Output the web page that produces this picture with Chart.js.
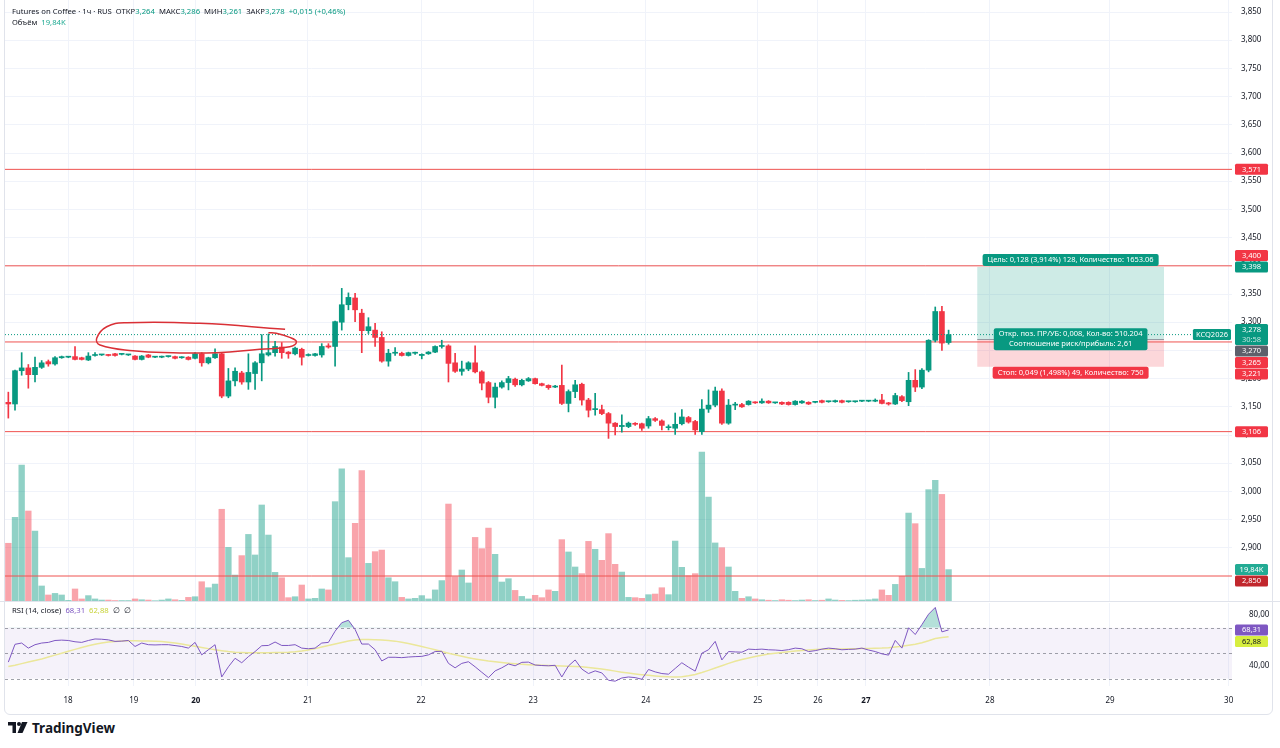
<!DOCTYPE html>
<html>
<head>
<meta charset="utf-8">
<script src="https://cdn.jsdelivr.net/npm/chart.js@4.4.1/dist/chart.umd.min.js"></script>
<style>
  html, body { margin: 0; padding: 0; background: #fff; }
  body { width: 1280px; height: 748px; position: relative; overflow: hidden; font-family: 'Noto Sans', sans-serif; }
  canvas { position: absolute; left: 0; }
  #main { top: 0; }
  #rsi { top: 600px; }
  #frame { position: absolute; left: 4px; top: -10px; width: 1267px; height: 723px; border: 1px solid #e0e3eb; border-radius: 6px; }
  .txt { position: absolute; font-size: 7.7px; color: #131722; white-space: nowrap; line-height: 11px; }
  .g { color: #089981; }
  .t { color: #22ab94; }
  .p { color: #7e57c2; }
  .yl { color: #c8d33a; }
  #logo { position: absolute; left: 8px; top: 719px; height: 18px; display: flex; align-items: center; gap: 4px; font-size: 13.5px; font-weight: 700; color: #131722; }
</style>
</head>
<body>
<div id="frame"></div>
<canvas id="main" width="1280" height="602"></canvas>
<canvas id="rsi" width="1280" height="116"></canvas>

<div class="txt" style="left:12px;top:6px">Futures on Coffee · 1ч · RUS&nbsp; ОТКР<span class="g">3,264</span>&nbsp; МАКС<span class="g">3,286</span>&nbsp; МИН<span class="g">3,261</span>&nbsp; ЗАКР<span class="g">3,278</span>&nbsp; <span class="g">+0,015 (+0,46%)</span></div>
<div class="txt" style="left:12px;top:17px">Объём&nbsp; <span class="t">19,84K</span></div>
<div class="txt" style="left:12px;top:605px">RSI (14, close)&nbsp; <span class="p">68,31</span>&nbsp; <span class="yl">62,88</span>&nbsp; ∅&nbsp; ∅</div>
<div id="logo">
  <svg width="20" height="12" viewBox="0 0 20 12"><path d="M0 0H8V11H4.5V3.4H0Z" fill="#131722"/><circle cx="11" cy="2" r="2" fill="#131722"/><path d="M14 0H19.5L14.5 11H9.5Z" fill="#131722"/></svg>
  <span>TradingView</span>
</div>

<script>
// ---- data ----
const dayLabels = ['18', '19', '20', '21', '22', '23', '24', '25', '26', '27', '28', '29', '30'];
const dayStarts = [8.95, 18.8, 28.1, 44.9, 61.9, 78.7, 95.6, 112.4, 121.4, 128.6, 147.2, 165.2, 183.0];
const weekStarts = ['20', '27'];

const opens = [
  3.158, 3.155, 3.214, 3.219, 3.207, 3.220, 3.230, 3.226, 3.237, 3.238,
  3.239, 3.237, 3.233, 3.241, 3.242, 3.242, 3.244, 3.243, 3.242, 3.240,
  3.234, 3.242, 3.238, 3.238, 3.239, 3.239, 3.237, 3.238, 3.236, 3.244,
  3.228, 3.237, 3.244, 3.169, 3.196, 3.210, 3.194, 3.209, 3.228, 3.242,
  3.246, 3.256, 3.247, 3.244, 3.252, 3.241, 3.241, 3.242, 3.258, 3.257,
  3.300, 3.331, 3.343, 3.316, 3.285, 3.286, 3.273, 3.231, 3.245, 3.245,
  3.241, 3.245, 3.241, 3.244, 3.247, 3.257, 3.258, 3.228, 3.213, 3.217,
  3.228, 3.212, 3.193, 3.167, 3.185, 3.193, 3.199, 3.189, 3.196, 3.200,
  3.191, 3.188, 3.185, 3.188, 3.156, 3.177, 3.190, 3.162, 3.145, 3.145,
  3.138, 3.121, 3.115, 3.115, 3.120, 3.120, 3.116, 3.129, 3.125, 3.113,
  3.112, 3.120, 3.131, 3.124, 3.106, 3.146, 3.153, 3.178, 3.121, 3.153,
  3.154, 3.154, 3.158, 3.157, 3.160, 3.157, 3.158, 3.158, 3.154, 3.157,
  3.158, 3.158, 3.161, 3.159, 3.159, 3.161, 3.159, 3.159, 3.160, 3.160,
  3.160, 3.162, 3.157, 3.155, 3.168, 3.159, 3.197, 3.185, 3.215, 3.268,
  3.319, 3.264
];
const highs = [
  3.176, 3.215, 3.246, 3.225, 3.238, 3.232, 3.233, 3.239, 3.240, 3.239,
  3.257, 3.238, 3.246, 3.246, 3.243, 3.243, 3.245, 3.244, 3.243, 3.241,
  3.241, 3.243, 3.239, 3.240, 3.240, 3.240, 3.239, 3.239, 3.246, 3.246,
  3.238, 3.253, 3.245, 3.218, 3.219, 3.213, 3.244, 3.230, 3.278, 3.279,
  3.266, 3.264, 3.248, 3.256, 3.254, 3.244, 3.245, 3.262, 3.262, 3.302,
  3.360, 3.352, 3.351, 3.323, 3.308, 3.298, 3.283, 3.252, 3.255, 3.247,
  3.247, 3.247, 3.244, 3.248, 3.258, 3.268, 3.260, 3.245, 3.231, 3.230,
  3.258, 3.214, 3.195, 3.192, 3.196, 3.204, 3.201, 3.199, 3.202, 3.201,
  3.192, 3.189, 3.188, 3.224, 3.180, 3.197, 3.192, 3.165, 3.174, 3.153,
  3.140, 3.122, 3.136, 3.123, 3.122, 3.121, 3.133, 3.131, 3.127, 3.118,
  3.139, 3.145, 3.133, 3.126, 3.163, 3.180, 3.185, 3.182, 3.163, 3.158,
  3.156, 3.161, 3.159, 3.164, 3.161, 3.158, 3.159, 3.159, 3.161, 3.161,
  3.159, 3.159, 3.162, 3.160, 3.162, 3.162, 3.160, 3.160, 3.161, 3.161,
  3.164, 3.172, 3.158, 3.174, 3.170, 3.211, 3.216, 3.218, 3.269, 3.327,
  3.328, 3.286
];
const lows = [
  3.130, 3.144, 3.206, 3.183, 3.194, 3.218, 3.222, 3.224, 3.236, 3.237,
  3.233, 3.233, 3.232, 3.240, 3.241, 3.240, 3.240, 3.242, 3.241, 3.233,
  3.233, 3.237, 3.237, 3.237, 3.238, 3.235, 3.236, 3.233, 3.235, 3.222,
  3.226, 3.236, 3.166, 3.166, 3.187, 3.190, 3.181, 3.181, 3.196, 3.240,
  3.240, 3.236, 3.236, 3.242, 3.224, 3.240, 3.240, 3.238, 3.254, 3.222,
  3.286, 3.322, 3.301, 3.246, 3.280, 3.257, 3.229, 3.222, 3.241, 3.240,
  3.240, 3.243, 3.235, 3.243, 3.246, 3.254, 3.194, 3.211, 3.206, 3.214,
  3.210, 3.180, 3.157, 3.148, 3.183, 3.180, 3.186, 3.187, 3.195, 3.190,
  3.187, 3.181, 3.184, 3.154, 3.141, 3.166, 3.153, 3.132, 3.135, 3.136,
  3.094, 3.100, 3.105, 3.113, 3.117, 3.108, 3.112, 3.124, 3.109, 3.109,
  3.101, 3.118, 3.121, 3.101, 3.101, 3.140, 3.150, 3.119, 3.119, 3.145,
  3.149, 3.153, 3.156, 3.156, 3.156, 3.156, 3.154, 3.153, 3.153, 3.156,
  3.154, 3.157, 3.157, 3.158, 3.158, 3.157, 3.158, 3.158, 3.159, 3.159,
  3.159, 3.155, 3.153, 3.154, 3.159, 3.152, 3.177, 3.182, 3.212, 3.265,
  3.250, 3.261
];
const closes = [
  3.155, 3.214, 3.219, 3.207, 3.220, 3.228, 3.226, 3.237, 3.239, 3.238,
  3.234, 3.234, 3.240, 3.242, 3.242, 3.241, 3.241, 3.243, 3.242, 3.234,
  3.240, 3.238, 3.238, 3.239, 3.239, 3.236, 3.237, 3.234, 3.244, 3.228,
  3.237, 3.244, 3.169, 3.196, 3.213, 3.194, 3.211, 3.228, 3.244, 3.246,
  3.257, 3.246, 3.244, 3.254, 3.238, 3.242, 3.244, 3.257, 3.256, 3.301,
  3.331, 3.344, 3.322, 3.285, 3.292, 3.273, 3.231, 3.245, 3.246, 3.241,
  3.246, 3.246, 3.243, 3.247, 3.257, 3.258, 3.227, 3.213, 3.217, 3.228,
  3.212, 3.192, 3.167, 3.185, 3.193, 3.200, 3.189, 3.197, 3.200, 3.191,
  3.188, 3.184, 3.186, 3.156, 3.177, 3.189, 3.162, 3.144, 3.146, 3.138,
  3.121, 3.115, 3.117, 3.121, 3.119, 3.112, 3.129, 3.126, 3.117, 3.114,
  3.119, 3.132, 3.123, 3.109, 3.146, 3.153, 3.178, 3.121, 3.153, 3.154,
  3.150, 3.160, 3.157, 3.160, 3.157, 3.157, 3.155, 3.154, 3.160, 3.160,
  3.155, 3.158, 3.158, 3.159, 3.161, 3.158, 3.159, 3.159, 3.160, 3.160,
  3.160, 3.156, 3.155, 3.170, 3.161, 3.197, 3.185, 3.215, 3.268, 3.319,
  3.263, 3.278
];
// volume, thousands
const volumes = [
  36.5, 52.9, 86, 56.9, 44.2, 9.5, 3.8, 4.8, 3.8, 0.4,
  7.6, 1.3, 3.4, 1.3, 0.6, 0.6, 0.3, 0.3, 0.3, 1.3,
  0.8, 0.6, 0.2, 0.6, 1.3, 0.8, 0.4, 2.3, 2.7, 12.2,
  8.4, 10.7, 58, 33.9, 16.4, 28.7, 42.1, 29.1, 60.7, 41.7,
  18.1, 14.7, 2.1, 2.7, 10.1, 1.3, 1.7, 7.6, 7, 62.8,
  83.5, 27.4, 49.1, 82.4, 23.8, 31.2, 32.2, 14.7, 12.2, 2.3,
  1.3, 1.7, 3.4, 1.3, 7, 12.9, 61.3, 15.4, 19.6, 11.4,
  40.2, 33.1, 46.1, 29.5, 12, 14.1, 6.7, 2.9, 1.3, 3.6,
  2.1, 7, 6.1, 38.8, 31, 21.5, 17.3, 37.7, 32.7, 25.7,
  42.6, 23.2, 18.3, 2.3, 2.1, 1.7, 4, 4.4, 8.4, 4,
  37.9, 21.3, 16, 17.3, 94.2, 65.7, 36.7, 33.7, 21.5, 6.1,
  1.7, 2.7, 1.3, 0.8, 0.5, 0.3, 0.8, 0.5, 0.3, 0.6,
  0.8, 0.3, 0.5, 1.3, 0.6, 0.4, 0.3, 0.5, 0.6, 0.8,
  1.3, 7, 3.6, 10.5, 15.6, 55.6, 48.9, 20.6, 70.4, 76.3,
  67.4, 19.84
];
const rsiValues = [
  43, 57, 58, 54, 56.7, 58, 58.5, 60, 60.3, 60,
  59, 58.5, 60, 61.2, 61, 60.5, 59.3, 59.5, 60, 55.3,
  58, 56.7, 56.5, 56.7, 56.7, 56, 55.3, 54, 58.5, 48.7,
  52.7, 56.7, 31.3, 39.3, 46, 42.5, 47.3, 51.3, 55.9, 56.1,
  58.8, 56.1, 56.1, 56.7, 54, 53.5, 54, 58, 58.5, 67.3,
  74, 75.9, 68.7, 57.2, 57.2, 52.7, 43.9, 46.8, 46.8, 46.5,
  47, 47.3, 47.5, 48.7, 51.3, 51.5, 42, 38.5, 42, 43.3,
  39.3, 35, 30.8, 36.1, 38.5, 41.5, 40.1, 42.8, 43, 40.7,
  40.3, 40.1, 40.5, 31.3, 40, 44.7, 37.5, 34, 36.1, 34.5,
  28.7, 28, 30.5, 31.3, 30.8, 29.5, 37.2, 35.3, 34, 33.5,
  38, 42.5, 39, 35.9, 50, 52.7, 59.3, 44.7, 51.3, 51,
  50.8, 53.2, 52.9, 53.2, 52.7, 52.5, 52.1, 52.8, 54, 53.5,
  51.3, 52, 53.2, 54, 53.5, 52.7, 53, 53.2, 54, 52.5,
  51.3, 49.5, 48.5, 60.1, 54, 70, 64.7, 72.5, 80.7, 86,
  66.8, 68.31
];
const rsiMA = [
  39.5, 40.5, 41.8, 43, 44.2, 45.5, 47, 48.5, 50, 51.5,
  53, 54.5, 55.8, 57, 58, 58.8, 59.3, 59.6, 59.8, 59.8,
  59.7, 59.6, 59.4, 59.2, 58.6, 58, 57.2, 56.3, 55.5, 54.5,
  53.6, 52.8, 52, 51.3, 50.8, 50.5, 50.3, 50.3, 50.3, 50.4,
  50.5, 50.6, 50.8, 51.2, 51.8, 52.6, 53.6, 54.8, 56, 57.3,
  58.5, 59.6, 60.3, 60.7, 60.7, 60.6, 60.3, 60, 59.5, 58.6,
  57.6, 56.4, 55.2, 54, 52.7, 51.3, 50, 48.8, 47.6, 46.5,
  45.5, 44.6, 43.8, 43.2, 42.6, 42.1, 41.7, 41.3, 41, 40.7,
  40.5, 40.3, 40.1, 40, 39.8, 39.6, 39.3, 38.8, 38.2, 37.5,
  36.7, 35.9, 35.1, 34.4, 33.7, 33.1, 32.6, 32.1, 31.7, 31.4,
  31.3, 31.5, 32.2, 33.3, 34.8, 36.5, 38.3, 40.1, 42, 43.6,
  45, 46.3, 47.4, 48.4, 49.3, 50, 50.6, 51.2, 51.7, 52.2,
  52.6, 52.9, 53.1, 53.2, 53.3, 53.4, 53.5, 53.6, 53.7, 53.8,
  53.9, 54, 54.3, 54.9, 55.4, 56.2, 57.1, 58.3, 59.8, 61.5,
  62.3, 62.88
];
const priceTicks = [2.90, 2.95, 3.00, 3.05, 3.10, 3.15, 3.20, 3.25, 3.30, 3.35, 3.40, 3.45, 3.50, 3.55, 3.60, 3.65, 3.70, 3.75, 3.80, 3.85];
const rsiTicks = [40, 80];
const rsiLevels = [70, 50, 30];
const hLevels = [3.571, 3.400, 3.265, 3.106, 2.850];
const lastPrice = 3.278;
const lastVolume = 19.84;
// long position tool
const posFrom = 145.3, posTo = 173.3;
const posEntry = 3.270, posTarget = 3.398, posStop = 3.221;
// hand-drawn loop (bar index, price)
const loopX = [41.5, 28.7, 17.75, 14.75, 13.25, 13.75, 18.7, 24.7, 31.2, 37.7, 42.2, 43.2, 42.2, 40.2, 39.0];
const loopY = [3.2874, 3.2980, 3.2991, 3.2920, 3.2715, 3.2596, 3.2495, 3.2459, 3.2459, 3.2520, 3.2566, 3.2654, 3.2732, 3.2803, 3.2814];

// ---- look ----
const xMin = -0.5, xMax = 183.5;
const priceMin = 2.8057, priceMax = 3.8713;
const volMax = 380;
const rsiMin = 24.2, rsiMax = 89.5;
const green = '#089981', red = '#f23645';
const volGreen = 'rgba(8,153,129,0.45)', volRed = 'rgba(242,54,69,0.45)';
const lineRed = '#ef5350';
const gridColor = '#f0f3fa';
const fam = "'Noto Sans', sans-serif";
const txtColor = '#131722';

const up = closes.map((c, i) => c >= opens[i]);
const fmt3 = v => v.toFixed(3).replace('.', ',');

function roundBox(ctx, x, y, w, h, r) {
  ctx.beginPath();
  if (ctx.roundRect) ctx.roundRect(x, y, w, h, r); else ctx.rect(x, y, w, h);
  ctx.fill();
}

// scales should not ask for extra room around the plot
function noPad(s) {
  s.paddingTop = 0; s.paddingBottom = 0; s.paddingLeft = 0; s.paddingRight = 0;
}

// price-axis tags, pushed apart when they overlap
function drawTags(ctx, tags, x, w) {
  const anchors = tags.filter(t => t.anchor);
  const placed = anchors.map(t => ({ t, top: t.y - t.h / 2 }));
  const dist = t => Math.min(...anchors.map(a => Math.abs(a.y - t.y)));
  const rest = tags.filter(t => !t.anchor).sort((a, b) => dist(a) - dist(b));
  for (const t of rest) {
    let top = t.y - t.h / 2, dir = 0;
    for (let k = 0; k < 20; k++) {
      const hit = placed.find(p => top < p.top + p.t.h && top + t.h > p.top);
      if (!hit) break;
      if (!dir) dir = t.y >= hit.top + hit.t.h / 2 ? 1 : -1;
      top = dir > 0 ? hit.top + hit.t.h + 0.5 : hit.top - t.h - 0.5;
    }
    placed.push({ t, top });
  }
  ctx.textAlign = 'center';
  ctx.textBaseline = 'middle';
  for (const p of placed) {
    ctx.fillStyle = p.t.bg;
    roundBox(ctx, x, p.top, w, p.t.h, 1.5);
    p.t.lines.forEach((s, k) => {
      ctx.fillStyle = k === 0 ? p.t.fg : 'rgba(255,255,255,0.75)';
      ctx.font = '7.5px ' + fam;
      ctx.fillText(s, x + w / 2, p.top + 5.5 + k * 10);
    });
  }
}

function labelBox(ctx, lines, cx, top, bg) {
  ctx.font = '7.5px ' + fam;
  const w = Math.max(...lines.map(s => ctx.measureText(s).width)) + 10;
  const h = lines.length * 10 + 2;
  ctx.fillStyle = bg;
  roundBox(ctx, cx - w / 2, top, w, h, 2);
  ctx.fillStyle = '#fff';
  ctx.textAlign = 'center';
  ctx.textBaseline = 'middle';
  lines.forEach((s, k) => ctx.fillText(s, cx, top + 6 + k * 10));
}

const mainOverlay = {
  id: 'mainOverlay',
  beforeDatasetsDraw(chart) {
    const { ctx, scales: { x, y } } = chart;
    const x0 = x.getPixelForValue(posFrom), x1 = x.getPixelForValue(posTo);
    const yE = y.getPixelForValue(posEntry), yT = y.getPixelForValue(posTarget), yS = y.getPixelForValue(posStop);
    ctx.save();
    ctx.fillStyle = 'rgba(8,153,129,0.2)';
    ctx.fillRect(x0, yT, x1 - x0, yE - yT);
    ctx.fillStyle = 'rgba(242,54,69,0.2)';
    ctx.fillRect(x0, yE, x1 - x0, yS - yE);
    ctx.strokeStyle = '#9598a1';
    ctx.lineWidth = 1;
    ctx.beginPath();
    ctx.moveTo(x0, Math.round(yE) + 0.5);
    ctx.lineTo(x1, Math.round(yE) + 0.5);
    ctx.stroke();
    ctx.restore();
  },
  afterDraw(chart) {
    const { ctx, chartArea: a, scales: { x, y, yv } } = chart;
    ctx.save();
    const x0 = x.getPixelForValue(posFrom), x1 = x.getPixelForValue(posTo);
    const cx = (x0 + x1) / 2;
    const yE = y.getPixelForValue(posEntry), yT = y.getPixelForValue(posTarget), yS = y.getPixelForValue(posStop);
    labelBox(ctx, ['Цель: 0,128 (3,914%) 128, Количество: 1653.06'], cx, yT - 13, green);
    labelBox(ctx, ['Откр. поз. ПР/УБ: 0,008, Кол-во: 510.204', 'Соотношение риск/прибыль: 2,61'], cx, yE - 11, green);
    labelBox(ctx, ['Стоп: 0,049 (1,498%) 49, Количество: 750'], cx, yS, red);

    // symbol label at last price
    const yL = y.getPixelForValue(lastPrice);
    ctx.font = '7.5px ' + fam;
    const sw = ctx.measureText('KCQ2026').width + 6;
    ctx.fillStyle = green;
    roundBox(ctx, a.right - sw - 1, yL - 5.5, sw, 11, 1.5);
    ctx.fillStyle = '#fff';
    ctx.textAlign = 'center';
    ctx.textBaseline = 'middle';
    ctx.fillText('KCQ2026', a.right - 1 - sw / 2, yL);

    const tag = (v, text, bg, anchor) => ({ y: y.getPixelForValue(v), h: 11, lines: [text], bg, fg: '#fff', anchor: !!anchor });
    const tags = [
      tag(3.571, fmt3(3.571), red),
      tag(3.400, fmt3(3.400), red),
      tag(posTarget, fmt3(posTarget), green, true),
      { y: yL, h: 21, lines: [fmt3(lastPrice), '30:58'], bg: green, fg: '#fff', anchor: true },
      tag(posEntry, fmt3(posEntry), '#5d606b'),
      tag(3.265, fmt3(3.265), red),
      tag(posStop, fmt3(posStop), red),
      tag(3.106, fmt3(3.106), red),
      { y: yv.getPixelForValue(lastVolume), h: 11, lines: ['19,84K'], bg: '#22ab94', fg: '#fff', anchor: true },
      tag(2.850, fmt3(2.850), '#c1272d')
    ];
    drawTags(ctx, tags, a.right + 3, 33);

    ctx.strokeStyle = '#e0e3eb';
    ctx.lineWidth = 1;
    ctx.beginPath();
    ctx.moveTo(0, a.bottom + 0.5);
    ctx.lineTo(chart.width, a.bottom + 0.5);
    ctx.stroke();
    ctx.restore();
  }
};

const lineSet = (pts, color, extra) => Object.assign({
  type: 'line', data: pts, yAxisID: 'y', borderColor: color, borderWidth: 1,
  pointRadius: 0, fill: false, tension: 0
}, extra);

const datasets = [
  lineSet(loopX.map((v, i) => ({ x: v, y: loopY[i] })), '#d93036', { borderWidth: 1.5, tension: 0.45, order: 0 }),
  lineSet([{ x: xMin, y: lastPrice }, { x: xMax, y: lastPrice }], green, { borderDash: [1, 2], order: 1 }),
  {
    type: 'bar', yAxisID: 'y', order: 2, grouped: false, barThickness: 5, minBarLength: 1,
    data: opens.map((o, i) => ({ x: i, y: [o, closes[i]] })),
    backgroundColor: up.map(u => u ? green : red)
  },
  {
    type: 'bar', yAxisID: 'y', order: 3, grouped: false, barThickness: 1, minBarLength: 1,
    data: lows.map((l, i) => ({ x: i, y: [l, highs[i]] })),
    backgroundColor: up.map(u => u ? green : red)
  },
  ...hLevels.map(v => lineSet([{ x: xMin, y: v }, { x: xMax, y: v }], lineRed, { order: 4 })),
  {
    type: 'bar', yAxisID: 'yv', order: 6, grouped: false, barThickness: 5.7,
    data: volumes.map((v, i) => ({ x: i, y: v })),
    backgroundColor: up.map(u => u ? volGreen : volRed)
  }
];

new Chart(document.getElementById('main'), {
  type: 'bar',
  data: { datasets },
  options: {
    responsive: false,
    animation: false,
    devicePixelRatio: 1,
    layout: { autoPadding: false, padding: { left: 5, right: 0, top: 0, bottom: 1 } },
    plugins: { legend: { display: false }, tooltip: { enabled: false } },
    scales: {
      x: {
        type: 'linear', min: xMin, max: xMax, offset: false,
        afterBuildTicks: s => { s.ticks = dayStarts.map(v => ({ value: v })); },
        ticks: { display: false },
        grid: { color: gridColor, drawTicks: false, offset: false },
        border: { display: false },
        afterFit: s => { s.height = 0; noPad(s); }
      },
      y: {
        type: 'linear', position: 'right', min: priceMin, max: priceMax,
        afterBuildTicks: s => { s.ticks = priceTicks.map(v => ({ value: v })); },
        ticks: { callback: v => fmt3(v), color: txtColor, font: { family: fam, size: 8 }, padding: 9 },
        grid: { color: gridColor, drawTicks: false },
        border: { display: false },
        afterFit: s => { s.width = 48; noPad(s); }
      },
      yv: { type: 'linear', display: false, min: 0, max: volMax, afterFit: s => { s.width = 0; noPad(s); } }
    }
  },
  plugins: [mainOverlay]
});

const rsiOverlay = {
  id: 'rsiOverlay',
  beforeDatasetsDraw(chart) {
    const { ctx, chartArea: a, scales: { y } } = chart;
    ctx.save();
    const yTop = y.getPixelForValue(rsiLevels[0]), yBot = y.getPixelForValue(rsiLevels[2]);
    ctx.fillStyle = 'rgba(126,87,194,0.08)';
    ctx.fillRect(a.left, yTop, a.right - a.left, yBot - yTop);
    ctx.strokeStyle = 'rgba(120,123,134,0.7)';
    ctx.lineWidth = 1;
    ctx.setLineDash([3, 3]);
    rsiLevels.forEach(v => {
      const yy = Math.round(y.getPixelForValue(v)) + 0.5;
      ctx.beginPath();
      ctx.moveTo(a.left, yy);
      ctx.lineTo(a.right, yy);
      ctx.stroke();
    });
    ctx.restore();
  },
  afterDraw(chart) {
    const { ctx, chartArea: a, scales: { y } } = chart;
    ctx.save();
    const n = rsiValues.length - 1;
    drawTags(ctx, [
      { y: y.getPixelForValue(rsiValues[n]), h: 11, lines: ['68,31'], bg: '#7e57c2', fg: '#fff', anchor: true },
      { y: y.getPixelForValue(rsiMA[n]), h: 11, lines: ['62,88'], bg: '#d7ee3f', fg: '#131722' }
    ], a.right + 3, 33);
    ctx.restore();
  }
};

new Chart(document.getElementById('rsi'), {
  type: 'line',
  data: {
    datasets: [
      {
        data: rsiValues.map((v, i) => ({ x: i, y: v })),
        borderColor: '#7e57c2', borderWidth: 1, pointRadius: 0, tension: 0,
        fill: { target: { value: 70 }, above: 'rgba(8,153,129,0.3)', below: 'rgba(0,0,0,0)' }
      },
      {
        data: rsiMA.map((v, i) => ({ x: i, y: v })),
        borderColor: '#ebe79a', borderWidth: 1.5, pointRadius: 0, tension: 0, fill: false
      }
    ]
  },
  options: {
    responsive: false,
    animation: false,
    devicePixelRatio: 1,
    layout: { autoPadding: false, padding: { left: 5, right: 0, top: 3, bottom: 0 } },
    plugins: { legend: { display: false }, tooltip: { enabled: false } },
    scales: {
      x: {
        type: 'linear', min: xMin, max: xMax,
        afterBuildTicks: s => { s.ticks = dayStarts.map(v => ({ value: v })); },
        ticks: {
          autoSkip: false, maxRotation: 0, padding: 10, color: txtColor,
          callback: (v, i) => dayLabels[i],
          font: c => ({ family: fam, size: 8, weight: weekStarts.includes(dayLabels[c.index]) ? 'bold' : 'normal' })
        },
        grid: { color: gridColor, drawTicks: false },
        border: { display: false },
        afterFit: s => { s.height = 30; noPad(s); }
      },
      y: {
        type: 'linear', position: 'right', min: rsiMin, max: rsiMax,
        afterBuildTicks: s => { s.ticks = rsiTicks.map(v => ({ value: v })); },
        ticks: { callback: v => v.toFixed(2).replace('.', ','), color: txtColor, font: { family: fam, size: 8 }, padding: 9 },
        grid: { display: false },
        border: { display: false },
        afterFit: s => { s.width = 48; noPad(s); }
      }
    }
  },
  plugins: [rsiOverlay]
});
</script>
</body>
</html>
